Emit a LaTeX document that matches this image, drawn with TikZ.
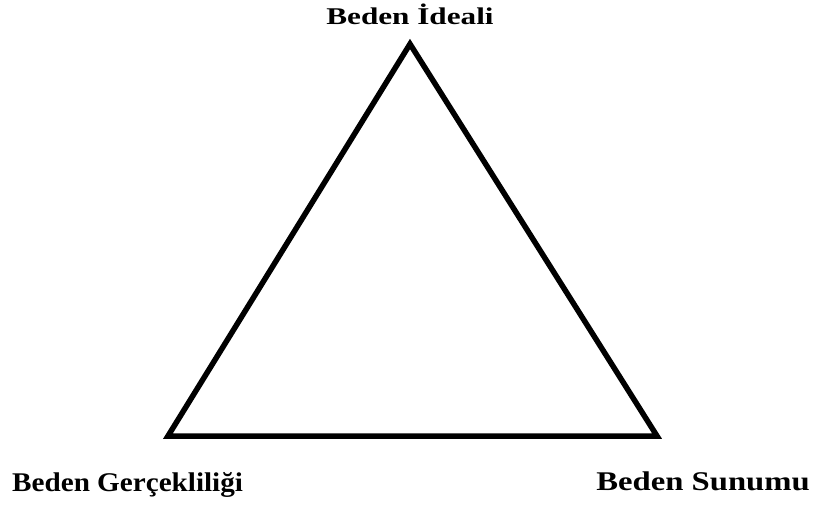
\documentclass[tikz,border=0pt]{standalone}
\usepackage{fontspec}
\usetikzlibrary{positioning, calc}
\newfontfamily\labelfont[FakeStretch=1.3]{Liberation Serif}
\newfontfamily\leftlabelfont[FakeStretch=1.08]{Liberation Serif}
\newfontfamily\rightlabelfont[FakeStretch=1.21]{Liberation Serif}
\tikzstyle{corner} = [inner sep=0pt, font=\labelfont\bfseries\fontsize{24}{28}\selectfont]
\tikzstyle{basecorner} = [inner sep=0pt, font=\bfseries\fontsize{27}{31}\selectfont]
\tikzstyle{side} = [line width=5.5pt, line join=miter, draw=black]

\begin{document}
\begin{tikzpicture}[x=1pt, y=1pt]
\useasboundingbox (0,0) rectangle (816,504);
\coordinate (ideal) at (410,460);
\coordinate (real) at (168,68);
\coordinate (show) at (657,68);
\draw[side] (ideal) -- (real) -- (show) -- cycle;
\node[corner, anchor=base] (idealtext) at (410,479) {Beden İdeali};
\node[basecorner, anchor=base west] (realtext) at (12,13) {\leftlabelfont Beden Gerçekliliği};
\node[basecorner, anchor=base east] (showtext) at (810,14) {\rightlabelfont Beden Sunumu};
\end{tikzpicture}
\end{document}
